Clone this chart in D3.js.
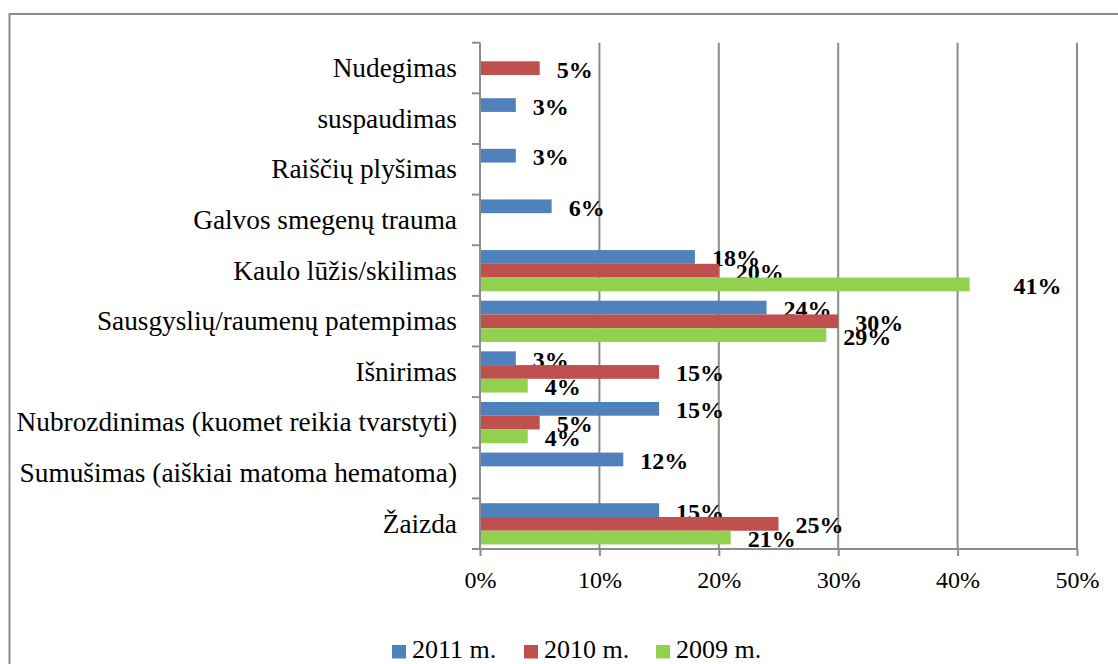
<!DOCTYPE html>
<html>
<head>
<meta charset="utf-8">
<script src="https://cdn.jsdelivr.net/npm/d3@7"></script>
<style>
  html, body { margin: 0; padding: 0; background: #fff; }
  svg { display: block; }
</style>
</head>
<body>
<div id="chart"></div>
<script>

var categories = ['Nudegimas', 'suspaudimas', 'Raiščių plyšimas', 'Galvos smegenų trauma',
                  'Kaulo lūžis/skilimas', 'Sausgyslių/raumenų patempimas', 'Išnirimas',
                  'Nubrozdinimas (kuomet reikia tvarstyti)', 'Sumušimas (aiškiai matoma hematoma)', 'Žaizda'];

var seriesNames = ['2011 m.', '2010 m.', '2009 m.'];
var seriesColors = ['#4F81BD', '#C0504D', '#92D050'];

// null = no bar in that year
var values2011 = [null, 3, 3, 6, 18, 24, 3, 15, 12, 15];
var values2010 = [5, null, null, null, 20, 30, 15, 5, null, 25];
var values2009 = [null, null, null, null, 41, 29, 4, 4, null, 21];

var xTicks = [0, 10, 20, 30, 40, 50];

var W = 1118, H = 664;
var plot = {left: 480, right: 1077, top: 42.7, bottom: 549};
var serif = '"Liberation Serif", "Times New Roman", Times, serif';

var svg = d3.select('#chart').append('svg')
    .attr('width', W).attr('height', H);

// outer frame (runs off the right and bottom edges)
svg.append('path')
    .attr('d', 'M9.5,' + (H + 5) + 'V14H' + (W + 5))
    .attr('fill', 'none')
    .attr('stroke', '#8c8c8c')
    .attr('stroke-width', 2);

var x = d3.scaleLinear().domain([0, 50]).range([plot.left, plot.right]);
var y = d3.scaleBand().domain(categories).range([plot.top, plot.bottom]).padding(0);
var inner = d3.scaleBand().domain(seriesNames)
    .range([y.bandwidth() * 0.096, y.bandwidth() * 0.91]);

// vertical gridlines
svg.append('g').selectAll('line')
    .data(xTicks.slice(1)).enter()
    .append('line')
    .attr('x1', function(d){ return x(d); })
    .attr('x2', function(d){ return x(d); })
    .attr('y1', plot.top).attr('y2', plot.bottom)
    .attr('stroke', '#8c8c8c').attr('stroke-width', 2);

// bars
var rows = seriesNames.map(function(s, i){
    var vals = [values2011, values2010, values2009][i];
    return categories.map(function(c, j){ return {series: s, idx: i, cat: c, v: vals[j]}; })
        .filter(function(d){ return d.v !== null; });
});

var groups = svg.append('g').selectAll('g')
    .data(rows).enter()
    .append('g');

groups.selectAll('rect')
    .data(function(d){ return d; }).enter()
    .append('rect')
    .attr('x', x(0))
    .attr('y', function(d){ return y(d.cat) + inner(d.series); })
    .attr('width', function(d){ return x(d.v) - x(0); })
    .attr('height', inner.bandwidth())
    .attr('fill', function(d){ return seriesColors[d.idx]; });

// x axis
var xAxis = svg.append('g')
    .attr('transform', 'translate(0,' + plot.bottom + ')')
    .call(d3.axisBottom(x).tickValues(xTicks).tickSize(7).tickPadding(10)
        .tickFormat(function(d){ return d + '%'; }));
xAxis.attr('font-family', null);
xAxis.select('.domain').attr('stroke', '#8c8c8c').attr('stroke-width', 2)
    .attr('d', 'M' + plot.left + ',0H' + plot.right);
xAxis.selectAll('.tick line').attr('stroke', '#8c8c8c').attr('stroke-width', 2);
xAxis.selectAll('.tick text')
    .attr('fill', '#000')
    .attr('y', 39)
    .attr('dy', null)
    .style('font-family', serif)
    .style('font-size', '24px');

// y axis
var yTickPos = categories.map(function(c){ return y(c); }).concat([plot.bottom]);
var yAxis = svg.append('g');
yAxis.append('line')
    .attr('x1', plot.left).attr('x2', plot.left)
    .attr('y1', plot.top).attr('y2', plot.bottom)
    .attr('stroke', '#8c8c8c').attr('stroke-width', 2);
yAxis.selectAll('.ytick')
    .data(yTickPos).enter()
    .append('line')
    .attr('x1', plot.left - 8).attr('x2', plot.left)
    .attr('y1', function(d){ return d; }).attr('y2', function(d){ return d; })
    .attr('stroke', '#8c8c8c').attr('stroke-width', 2);

yAxis.selectAll('.ylab')
    .data(categories).enter()
    .append('text')
    .attr('x', 457)
    .attr('y', function(d){ return y(d) + y.bandwidth() / 2 + 9; })
    .attr('text-anchor', 'end')
    .style('font-family', serif)
    .style('font-size', '27.3px')
    .attr('fill', '#000')
    .text(function(d){ return d; });

// data labels (the 41% one sits further out in the original)
function labelShift(d){ return (d.v === 41) ? 27 : 0; }

groups.selectAll('text')
    .data(function(d){ return d; }).enter()
    .append('text')
    .attr('x', function(d){ return x(d.v) + 17 + labelShift(d); })
    .attr('y', function(d){ return y(d.cat) + inner(d.series) + inner.bandwidth() / 2 + 9.5; })
    .style('font-family', serif)
    .style('font-size', '24px')
    .style('font-weight', 'bold')
    .attr('fill', '#000')
    .text(function(d){ return d.v + '%'; });

// legend
var legendX = [392, 524, 656];
var legend = svg.append('g').selectAll('g')
    .data(seriesNames).enter()
    .append('g')
    .attr('transform', function(d, i){ return 'translate(' + legendX[i] + ',645)'; });
legend.append('rect')
    .attr('width', 14).attr('height', 13.5)
    .attr('fill', function(d, i){ return seriesColors[i]; });
legend.append('text')
    .attr('x', 20).attr('y', 13)
    .style('font-family', serif)
    .style('font-size', '26px')
    .attr('fill', '#000')
    .text(function(d){ return d; });

</script>
</body>
</html>
